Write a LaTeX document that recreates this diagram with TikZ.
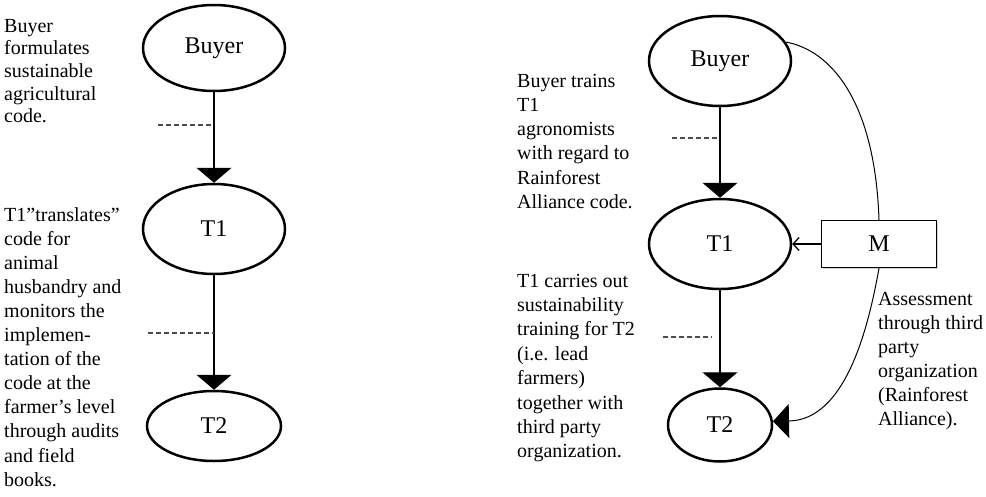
\documentclass[tikz,border=0pt]{standalone}
\usepackage{fontspec}
\setmainfont{Liberation Serif}
\usetikzlibrary{arrows.meta,shapes.geometric,shadows}
\newcommand\blocktext[2]{\parbox[t]{200pt}{\fontsize{20}{#1}\selectfont\raggedright #2}}
\begin{document}
\begin{tikzpicture}[x=1pt,y=-1pt,
  ell/.style={ellipse,draw,line width=2.5pt,inner sep=0pt,font=\fontsize{24}{28}\selectfont},
  mbox/.style={rectangle,draw,fill=white,line width=1.4pt,inner sep=0pt,minimum width=115pt,minimum height=47pt,font=\fontsize{24}{28}\selectfont,
    drop shadow={shadow xshift=1.2pt,shadow yshift=-1.2pt,opacity=0.35}},
  conn/.style={line width=1.3pt},
  curv/.style={line width=1pt},
  tri/.style={-{Triangle[width=35pt,length=15pt]}},
  dashln/.style={line width=1.4pt,black!70,dash pattern=on 5pt off 3pt},
  desc/.style={anchor=base west,inner sep=0pt}
]
\useasboundingbox (0,0) rectangle (986,496);

% text blocks
\node[desc] (t1) at (4,32) {\blocktext{22.7pt}{Buyer\\formulates\\sustainable\\agricultural\\code.}};
\node[desc] (t2) at (4,221) {\blocktext{24.1pt}{T1”translates”\\code for\\animal\\husbandry and\\monitors the\\implemen-\\tation of the\\code at the\\farmer’s level\\through audits\\and field\\books.}};
\node[desc] (t3) at (517,87) {\blocktext{24.3pt}{Buyer trains\\T1\\agronomists\\with regard to\\Rainforest\\Alliance code.}};
\node[desc] (t4) at (517,287) {\blocktext{24.4pt}{T1 carries out\\sustainability\\training for T2\\(i.e. lead\\farmers)\\together with\\third party\\organization.}};
\node[desc] (t5) at (878,305) {\blocktext{24pt}{Assessment\\through third\\party\\organization\\(Rainforest\\Alliance).}};

% left diagram
\node[ell,minimum width=142pt,minimum height=86pt] (LB) at (214,48) {Buyer};
\node[ell,minimum width=142pt,minimum height=90pt] (LT1) at (214,229) {T1};
\node[ell,minimum width=134pt,minimum height=70pt] (LT2) at (214,426) {T2};

% right diagram
\node[ell,minimum width=142pt,minimum height=90pt] (RB) at (720,61) {Buyer};
\node[ell,minimum width=142pt,minimum height=90pt] (RT1) at (720,244) {T1};
\node[ell,minimum width=104pt,minimum height=73pt] (RT2) at (720,425) {T2};
\node[mbox] (M) at (879,244) {M};

% connectors
\draw[conn,tri] (LB) -- (LT1);
\draw[conn,tri] (LT1) -- (LT2);
\draw[conn,tri] (RB) -- (RT1);
\draw[conn,tri] (RT1) -- (RT2);
\draw[conn,-{Straight Barb[length=6pt,width=13pt]}] (M) -- (RT1);
\draw[curv] (RB.16) .. controls (830,50) and (875,100) .. (M.north);
\draw[curv,-{Triangle[width=34pt,length=16pt]}] (M.south) .. controls (868,330) and (845,420) .. (RT2.4);

% dashed marks
\coordinate (d1a) at (158,125); \coordinate (d1b) at (214,125);
\coordinate (d2a) at (148,333); \coordinate (d2b) at (214,333);
\coordinate (d3a) at (672,138); \coordinate (d3b) at (719,138);
\coordinate (d4a) at (663,337); \coordinate (d4b) at (712,337);
\draw[dashln] (d1a) -- (d1b);
\draw[dashln] (d2a) -- (d2b);
\draw[dashln] (d3a) -- (d3b);
\draw[dashln] (d4a) -- (d4b);
\end{tikzpicture}
\end{document}
